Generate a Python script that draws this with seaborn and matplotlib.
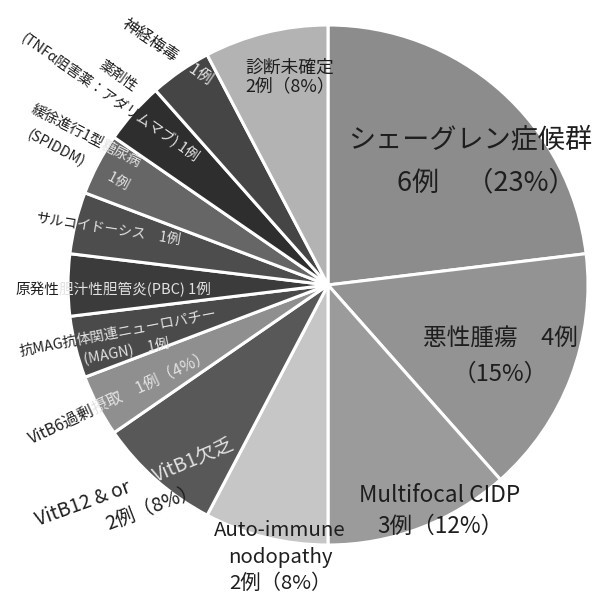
import math
import matplotlib
matplotlib.use("Agg")
import matplotlib.pyplot as plt
import seaborn as sns

sns.set_theme(style="white")
plt.rcParams['font.family'] = ['Noto Sans CJK JP', 'DejaVu Sans']

# ---- data ----
categories = [
    "シェーグレン症候群", "悪性腫瘍", "Multifocal CIDP", "Auto-immune nodopathy",
    "VitB12 & or VitB1欠乏", "VitB6過剰摂取", "抗MAG抗体関連ニューロパチー(MAGN)",
    "原発性胆汁性胆管炎(PBC)", "サルコイドーシス", "緩徐進行1型糖尿病(SPIDDM)",
    "薬剤性(TNFα阻害薬：アダリムマブ)", "神経梅毒", "診断未確定",
]
counts = [6, 4, 3, 2, 2, 1, 1, 1, 1, 1, 1, 1, 2]
colors = ["#8c8c8c", "#939393", "#9b9b9b", "#c6c6c6", "#585858", "#8f8f8f",
          "#4a4a4a", "#3b3b3b", "#4d4d4d", "#666666", "#2e2e2e", "#454545", "#b3b3b3"]

W, H = 606, 597
CX, CY, R = 328, 285, 260

fig = plt.figure(figsize=(W / 100, H / 100), dpi=100)
ax = fig.add_axes([0, 0, 1, 1])
ax.pie(counts, colors=colors, startangle=90, counterclock=False,
       center=(CX, H - CY), radius=R,
       wedgeprops=dict(edgecolor="white", linewidth=2.2))
ax.set_xlim(0, W)
ax.set_ylim(0, H)
ax.set_aspect("equal")
ax.axis("off")

DARK = "#1e1e1e"
LIGHT = "#e2e2e2"
renderer = fig.canvas.get_renderer()


def label(x, y, s, fs, rot=0, color=DARK, ls=1.25):
    """Place text at pixel coordinates (x, y from top)."""
    ax.text(x, H - y, s, color=color, fontsize=fs, rotation=rot, ha="center",
            va="center", rotation_mode="anchor", linespacing=ls,
            multialignment="center")


def width(s, fs):
    t = ax.text(0, 0, s, fontsize=fs)
    w = t.get_window_extent(renderer).width
    t.remove()
    return w


def split_label(x, y, prefix, suffix, fs, rot=0):
    """Outer part dark, inner part (inside the pie) light."""
    full = width(prefix + suffix, fs)
    pw = width(prefix, fs) if prefix else 0.0
    dx, dy = math.cos(math.radians(rot)), math.sin(math.radians(rot))
    lx, ly = x - full / 2 * dx, (H - y) - full / 2 * dy
    kw = dict(fontsize=fs, rotation=rot, ha="left", va="center",
              rotation_mode="anchor")
    if prefix:
        ax.text(lx, ly, prefix, color=DARK, **kw)
    if suffix:
        ax.text(lx + pw * dx, ly + pw * dy, suffix, color=LIGHT, **kw)


label(470, 140, "シェーグレン症候群", 19.5)
label(486, 183, "6例　（23%）", 19.5)
label(500, 356, "悪性腫瘍　4例\n（15%）", 17, ls=1.7)
label(440, 511, "Multifocal CIDP\n3例（12%）", 16.3, ls=1.45)
label(280, 557, "Auto-immune\nnodopathy\n2例（8%）", 14.7, ls=1.33)

# VitB12 / VitB1
label(83, 504, "VitB12 & or", 14, rot=20)
label(194, 461, "VitB1欠乏", 14, rot=23, color=LIGHT)
label(152, 507, "2例（8%）", 14, rot=21)

# VitB6
split_label(120, 398, "VitB6過剰", "摂取　1例（4%）", 11.5, rot=25)
# MAG
split_label(118, 333, "抗MAG抗", "体関連ニューロパチー", 10.3, rot=11)
split_label(126, 351, "", "(MAGN)　1例", 10.3, rot=11)
# PBC
split_label(113, 290, "原発性", "胆汁性胆管炎(PBC) 1例", 10.5)
# Sarcoid
split_label(108, 229, "サルコ", "イドーシス　1例", 10, rot=-9)
# SPIDDM
split_label(86, 136, "緩徐進行1型", "糖尿病", 10.3, rot=-27)
split_label(78, 160, "(SPIDDM)", "　　1例", 10.3, rot=-28)
# Drug
label(118, 76, "薬剤性", 10.3, rot=-35)
split_label(110, 97, "(TNFα阻害薬：アダリ", "ムマブ) 1例", 10.3, rot=-35)
# Neurosyphilis
split_label(167, 52, "神経梅毒", "　1例", 11.5, rot=-34)
# Undetermined
label(290, 77, "診断未確定\n2例（8%）", 12.8, ls=1.05)

fig.savefig("out.png", dpi=100, facecolor="white")
